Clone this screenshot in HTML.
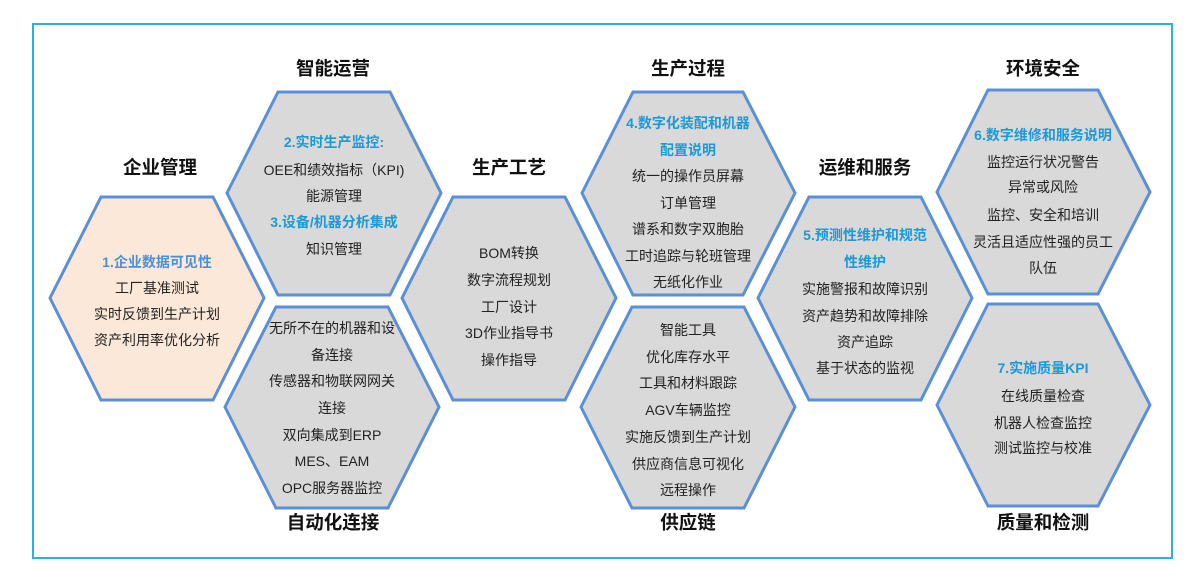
<!DOCTYPE html>
<html><head><meta charset="utf-8"><style>
html,body{margin:0;padding:0;background:#fff;}
svg{display:block;}
text{font-family:"Liberation Sans","Noto Sans CJK SC",sans-serif;text-anchor:middle;}
.t{font-size:18.5px;font-weight:bold;fill:#111;}
.b{font-size:14px;fill:#222;}
.h{font-size:14px;font-weight:bold;fill:#1a9ad6;}
.g{fill:#d9d9d9;stroke:#5b8fd6;stroke-width:3;}
.p{fill:#fce8d8;stroke:#5b8fd6;stroke-width:3;}
</style></head><body>
<svg width="1200" height="587" viewBox="0 0 1200 587">
<rect x="33" y="24" width="1139" height="534" fill="#fff" stroke="#29b0e6" stroke-width="2"/>
<polygon class="p" points="50,298 101,197 213,197 264,298 213,400 101,400"/>
<polygon class="g" points="227,193 278,92 390,92 441,193 390,295 278,295"/>
<polygon class="g" points="225,407 276,307 388,307 439,407 388,508 276,508"/>
<polygon class="g" points="402,298 453,197 565,197 616,298 565,400 453,400"/>
<polygon class="g" points="582,193 633,92 743,92 795,193 743,295 633,295"/>
<polygon class="g" points="581,407 632,307 744,307 795,407 744,508 632,508"/>
<polygon class="g" points="758,298 809,197 921,197 972,298 921,400 809,400"/>
<polygon class="g" points="937,192 988,90 1098,90 1150,192 1098,294 988,294"/>
<polygon class="g" points="937,405 988,304 1098,304 1150,405 1098,506 988,506"/>
<text class="t" x="160" y="174">企业管理</text>
<text class="t" x="333" y="75">智能运营</text>
<text class="t" x="509" y="174">生产工艺</text>
<text class="t" x="688" y="75">生产过程</text>
<text class="t" x="865" y="174">运维和服务</text>
<text class="t" x="1043" y="75">环境安全</text>
<text class="t" x="333" y="529">自动化连接</text>
<text class="t" x="688" y="529">供应链</text>
<text class="t" x="1043" y="529">质量和检测</text>
<text class="h" x="157" y="267" style="fill:#4a90d9">1.企业数据可见性</text>
<text class="b" x="157" y="293">工厂基准测试</text>
<text class="b" x="157" y="319">实时反馈到生产计划</text>
<text class="b" x="157" y="345">资产利用率优化分析</text>
<text class="h" x="334" y="147">2.实时生产监控:</text>
<text class="b" x="334" y="175">OEE和绩效指标（KPI)</text>
<text class="b" x="334" y="201">能源管理</text>
<text class="h" x="334" y="227">3.设备/机器分析集成</text>
<text class="b" x="334" y="254">知识管理</text>
<text class="b" x="332" y="333">无所不在的机器和设</text>
<text class="b" x="332" y="360">备连接</text>
<text class="b" x="332" y="386">传感器和物联网网关</text>
<text class="b" x="332" y="413">连接</text>
<text class="b" x="332" y="440">双向集成到ERP</text>
<text class="b" x="332" y="466">MES、EAM</text>
<text class="b" x="332" y="493">OPC服务器监控</text>
<text class="b" x="509" y="258">BOM转换</text>
<text class="b" x="509" y="285">数字流程规划</text>
<text class="b" x="509" y="312">工厂设计</text>
<text class="b" x="509" y="338">3D作业指导书</text>
<text class="b" x="509" y="365">操作指导</text>
<text class="h" x="688" y="128">4.数字化装配和机器</text>
<text class="h" x="688" y="155">配置说明</text>
<text class="b" x="688" y="181">统一的操作员屏幕</text>
<text class="b" x="688" y="208">订单管理</text>
<text class="b" x="688" y="234">谱系和数字双胞胎</text>
<text class="b" x="688" y="261">工时追踪与轮班管理</text>
<text class="b" x="688" y="287">无纸化作业</text>
<text class="b" x="688" y="335">智能工具</text>
<text class="b" x="688" y="362">优化库存水平</text>
<text class="b" x="688" y="388">工具和材料跟踪</text>
<text class="b" x="688" y="415">AGV车辆监控</text>
<text class="b" x="688" y="442">实施反馈到生产计划</text>
<text class="b" x="688" y="469">供应商信息可视化</text>
<text class="b" x="688" y="495">远程操作</text>
<text class="h" x="865" y="240">5.预测性维护和规范</text>
<text class="h" x="865" y="267">性维护</text>
<text class="b" x="865" y="294">实施警报和故障识别</text>
<text class="b" x="865" y="321">资产趋势和故障排除</text>
<text class="b" x="865" y="347">资产追踪</text>
<text class="b" x="865" y="373">基于状态的监视</text>
<text class="h" x="1043" y="140">6.数字维修和服务说明</text>
<text class="b" x="1043" y="167">监控运行状况警告</text>
<text class="b" x="1043" y="192">异常或风险</text>
<text class="b" x="1043" y="220">监控、安全和培训</text>
<text class="b" x="1043" y="247">灵活且适应性强的员工</text>
<text class="b" x="1043" y="273">队伍</text>
<text class="h" x="1043" y="373">7.实施质量KPI</text>
<text class="b" x="1043" y="401">在线质量检查</text>
<text class="b" x="1043" y="428">机器人检查监控</text>
<text class="b" x="1043" y="453">测试监控与校准</text>
</svg>
</body></html>
